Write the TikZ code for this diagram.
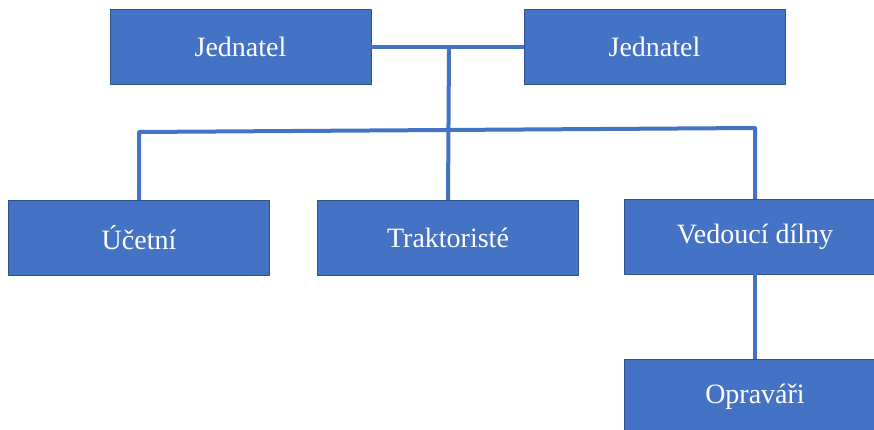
\documentclass[tikz,border=0pt]{standalone}
\usepackage{fontspec}
\setmainfont{Liberation Serif}
\definecolor{modra}{HTML}{4472C4}
\definecolor{okraj}{HTML}{2F528F}
\tikzset{
	box/.style={draw=okraj, thin, fill=modra, text=white, minimum width=261pt, minimum height=75pt, inner sep=0pt},
	spoj/.style={draw=modra, line width=4pt}
}
\begin{document}
\begin{tikzpicture}[x=1pt, y=-1pt, font=\fontsize{28}{34}\selectfont, line join=round]
		\useasboundingbox (0,0) rectangle (874,430);
		\node[box] (j1) at (240.5,47) {Jednatel};
		\node[box] (j2) at (654.5,47) {Jednatel};
		\node[box] (uc) at (139,237.5) {Účetní};
		\node[box] (tr) at (448,237.5) {Traktoristé};
		\node[box] (ved) at (755,236.5) {Vedoucí dílny};
		\node[box] (opr) at (755,396.5) {Opraváři};
		\coordinate (stred) at (449,47);
		\coordinate (busL) at (uc.north |- 0,132);
		\coordinate (busR) at (ved.north |- 0,128);
		\draw[spoj] (j1.east) -- (j2.west);
		\draw[spoj] (stred) -- (tr.north);
		\draw[spoj] (uc.north) -- (busL) -- (busR) -- (ved.north);
		\draw[spoj] (ved.south) -- (opr.north);
		\end{tikzpicture}
\end{document}
